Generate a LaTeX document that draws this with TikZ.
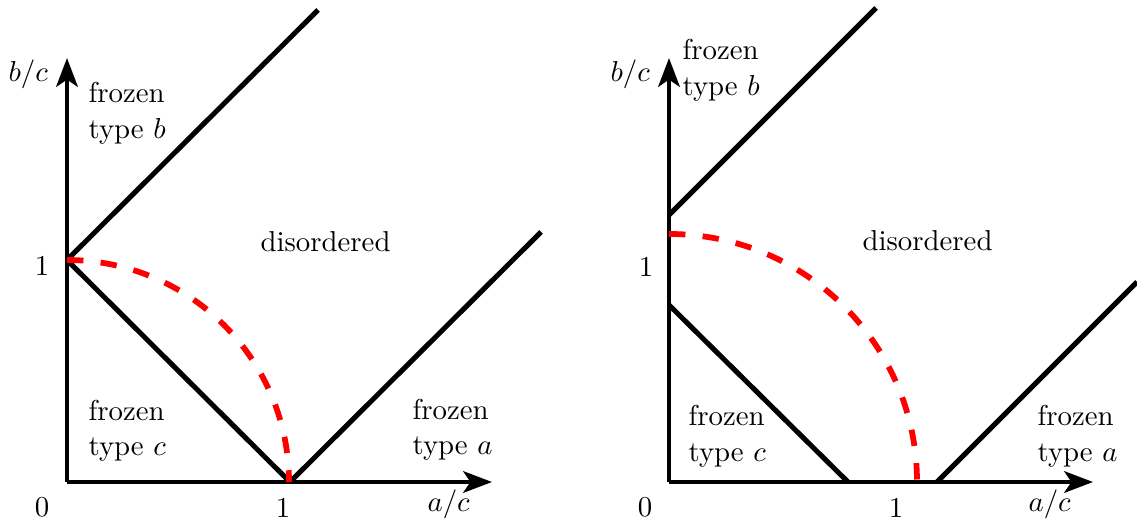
\documentclass[tikz,border=0pt]{standalone}
\usetikzlibrary{arrows.meta}
\begin{document}
\begin{tikzpicture}[x=0.3472pt,y=-0.3472pt,
  axis/.style={line width=1.4pt,-{Stealth[length=10pt,width=7.5pt,inset=2.5pt]}},
  border/.style={line width=1.75pt},
  reddash/.style={line width=2pt,red,dash pattern=on 5.7pt off 6pt},
  lbl/.style={inner sep=0pt,anchor=base west,font=\fontsize{10}{12}\selectfont},
  num/.style={inner sep=0pt,anchor=base,font=\fontsize{10}{12}\selectfont}]
\useasboundingbox (0,0) rectangle (1137,522);
% ---------- left panel ----------
\coordinate (O1) at (67,482);
\coordinate (Y1) at (67,58);
\coordinate (X1) at (492,482);
\coordinate (B1) at (67,260);
\coordinate (A1) at (290,482);
\coordinate (T1) at (318,10);
\coordinate (R1) at (541,232);
\draw[axis] (O1) -- (Y1);
\draw[axis] (O1) -- (X1);
\draw[border] (B1) -- (T1);
\draw[border] (B1) -- (A1);
\draw[border] (A1) -- (R1);
\draw[reddash] (B1) arc[start angle=-90,end angle=0,radius=222];
\node[lbl] (bcL) at (8,82) {$b/c$};
\node[lbl] (fbL1) at (88,103) {frozen};
\node[lbl] (fbL2) at (88,139) {type $b$};
\node[lbl] (dL) at (260,252) {disordered};
\node[num] (oneYL) at (42,275) {1};
\node[num] (zeroL) at (42,516) {0};
\node[num] (oneXL) at (283,517) {1};
\node[lbl] (acL) at (427,511) {$a/c$};
\node[lbl] (fcL1) at (88,420) {frozen};
\node[lbl] (fcL2) at (88,455) {type $c$};
\node[lbl] (faL1) at (412,419) {frozen};
\node[lbl] (faL2) at (412,454) {type $a$};
% ---------- right panel ----------
\coordinate (O2) at (669,482);
\coordinate (Y2) at (669,58);
\coordinate (X2) at (1093,482);
\coordinate (B2) at (669,215);
\coordinate (T2) at (876,8);
\coordinate (C2) at (669,305);
\coordinate (D2) at (848,482);
\coordinate (A2) at (937,482);
\coordinate (R2) at (1137,282);
\coordinate (E2) at (669,234);
\draw[axis] (O2) -- (Y2);
\draw[axis] (O2) -- (X2);
\draw[border] (B2) -- (T2);
\draw[border] (C2) -- (D2);
\draw[border] (A2) -- (R2);
\draw[reddash] (E2) arc[start angle=-90,end angle=0,radius=248];
\node[lbl] (bcR) at (610,82) {$b/c$};
\node[lbl] (fbR1) at (682,60) {frozen};
\node[lbl] (fbR2) at (682,96) {type $b$};
\node[lbl] (dR) at (862,251) {disordered};
\node[num] (oneYR) at (646,276) {1};
\node[num] (zeroR) at (645,516) {0};
\node[num] (oneXR) at (896,517) {1};
\node[lbl] (acR) at (1028,511) {$a/c$};
\node[lbl] (fcR1) at (688,425) {frozen};
\node[lbl] (fcR2) at (688,461) {type $c$};
\node[lbl] (faR1) at (1037,425) {frozen};
\node[lbl] (faR2) at (1037,461) {type $a$};
\end{tikzpicture}
\end{document}
